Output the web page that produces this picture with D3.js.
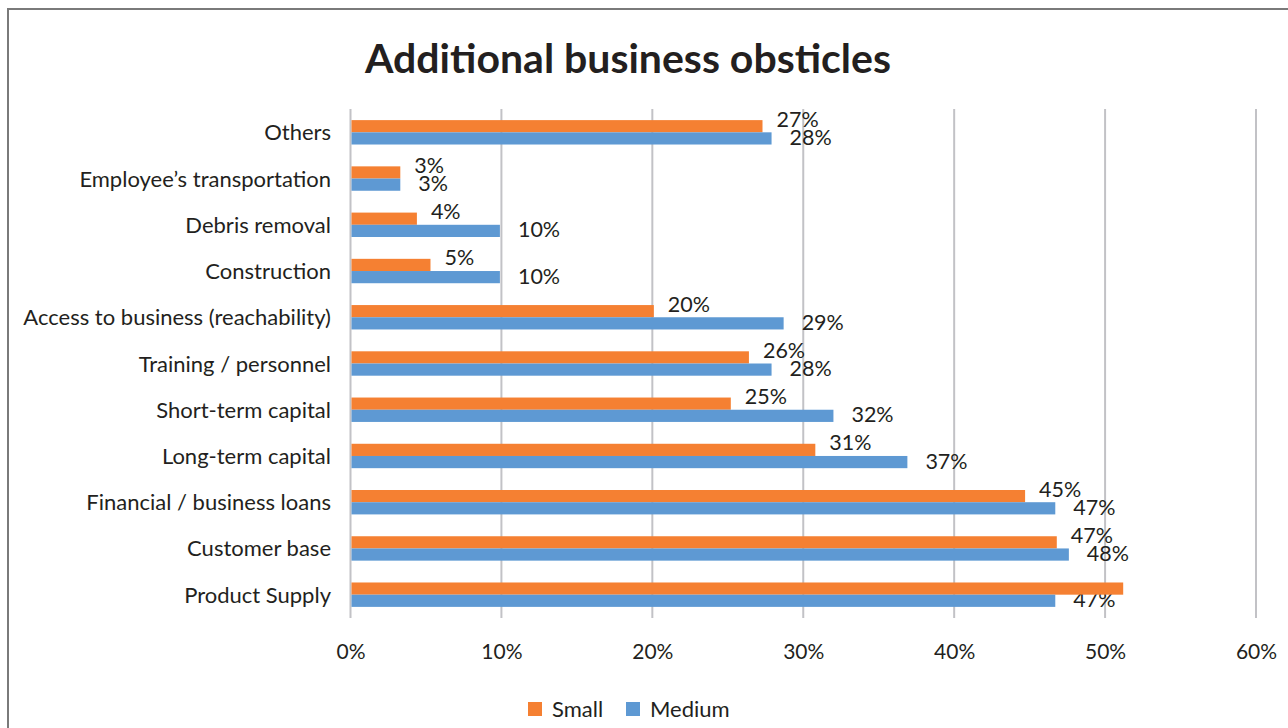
<!DOCTYPE html>
<html>
<head>
<meta charset="utf-8">
<script src="https://cdn.jsdelivr.net/npm/d3@7"></script>
<style>
  html, body { margin: 0; padding: 0; background: #ffffff; }
  svg { display: block; }
  text { font-family: Lato, "Open Sans", sans-serif; fill: #231f20; }
</style>
</head>
<body>
<svg id="chart" width="1288" height="728"></svg>
<script>
// Survey categories, top to bottom
const categories = [
  "Others",
  "Employee\u2019s transportation",
  "Debris removal",
  "Construction",
  "Access to business (reachability)",
  "Training / personnel",
  "Short-term capital",
  "Long-term capital",
  "Financial / business loans",
  "Customer base",
  "Product Supply"
];

// Share of respondents reporting each obstacle
const smallValues  = [0.273, 0.033, 0.044, 0.053, 0.201, 0.264, 0.252, 0.308, 0.447, 0.468, 0.512];
const mediumValues = [0.279, 0.033, 0.099, 0.099, 0.287, 0.279, 0.320, 0.369, 0.467, 0.476, 0.467];

// Small-business label for Product Supply is not printed
const smallLabelShown  = [true, true, true, true, true, true, true, true, true, true, false];
const mediumLabelShown = [true, true, true, true, true, true, true, true, true, true, true];

const seriesNames = ["Small", "Medium"];
const seriesColors = ["#f58032", "#5e99d3"];
const xTicks = [0, 0.1, 0.2, 0.3, 0.4, 0.5, 0.6];

const svg = d3.select("#chart");

// Outer frame
svg.append("rect")
  .attr("x", 8).attr("y", 9)
  .attr("width", 1300).attr("height", 740)
  .attr("fill", "none")
  .attr("stroke", "#7a7a7a")
  .attr("stroke-width", 2);

// Title
svg.append("text")
  .attr("x", 628).attr("y", 73)
  .attr("text-anchor", "middle")
  .style("font-size", "41px")
  .style("font-weight", "bold")
  .text("Additional business obsticles");

const x = d3.scaleLinear().domain([0, 0.6]).range([350.5, 1256]);
const y = d3.scaleBand().domain(categories).range([109.2, 617.8]).padding(0);
const barH = 12.2;

// Vertical gridlines (including the 0% axis line)
svg.append("g")
  .selectAll("line")
  .data(xTicks)
  .join("line")
  .attr("x1", d => x(d)).attr("x2", d => x(d))
  .attr("y1", 109).attr("y2", 618)
  .attr("stroke", "#c2c2c6")
  .attr("stroke-width", 2);

// X axis tick labels
const xAxis = d3.axisBottom(x).tickValues(xTicks).tickFormat(d3.format(".0%")).tickSize(0).tickPadding(0);
const gx = svg.append("g").attr("transform", "translate(0,644)").call(xAxis);
gx.select(".domain").remove();
gx.selectAll("text")
  .attr("dy", "0.7em")
  .style("font-family", "Lato, sans-serif")
  .style("font-size", "21px")
  .attr("fill", "#231f20");

// Category labels
const yAxis = d3.axisLeft(y).tickSize(0).tickPadding(0);
const gy = svg.append("g").attr("transform", "translate(331,1)").call(yAxis);
gy.select(".domain").remove();
gy.selectAll("text")
  .style("font-family", "Lato, sans-serif")
  .style("font-size", "22px")
  .attr("fill", "#231f20");

const fmt = d3.format(".0%");
const rows = categories.map((c, i) => ({
  cat: c,
  small: smallValues[i],
  medium: mediumValues[i],
  showSmall: smallLabelShown[i],
  showMedium: mediumLabelShown[i]
}));

// Value labels (drawn beneath the bars)
const labels = svg.append("g").style("font-size", "21.5px");
labels.selectAll("text.sl")
  .data(rows.filter(r => r.showSmall))
  .join("text")
  .attr("class", "sl")
  .attr("x", d => x(d.small) + 14)
  .attr("y", d => y(d.cat) + y.bandwidth() / 2 - barH / 2 - 7)
  .attr("dy", "0.35em")
  .text(d => fmt(d.small));
labels.selectAll("text.ml")
  .data(rows.filter(r => r.showMedium))
  .join("text")
  .attr("class", "ml")
  .attr("x", d => x(d.medium) + 18)
  .attr("y", d => y(d.cat) + y.bandwidth() / 2 + barH / 2 - 1)
  .attr("dy", "0.35em")
  .text(d => fmt(d.medium));

// Bars
const bars = svg.append("g");
bars.selectAll("rect.small")
  .data(rows)
  .join("rect")
  .attr("class", "small")
  .attr("x", x(0) + 1)
  .attr("y", d => y(d.cat) + y.bandwidth() / 2 - barH)
  .attr("width", d => x(d.small) - x(0) - 1)
  .attr("height", barH)
  .attr("fill", seriesColors[0]);
bars.selectAll("rect.medium")
  .data(rows)
  .join("rect")
  .attr("class", "medium")
  .attr("x", x(0) + 1)
  .attr("y", d => y(d.cat) + y.bandwidth() / 2)
  .attr("width", d => x(d.medium) - x(0) - 1)
  .attr("height", barH)
  .attr("fill", seriesColors[1]);

// Legend
const legendX = [528, 626];
const legend = svg.append("g");
const items = legend.selectAll("g")
  .data(seriesNames)
  .join("g")
  .attr("transform", (d, i) => `translate(${legendX[i]},702)`);
items.append("rect")
  .attr("width", 14).attr("height", 14)
  .attr("fill", (d, i) => seriesColors[i]);
items.append("text")
  .attr("x", 24).attr("y", 7)
  .attr("dy", "0.35em")
  .style("font-size", "22px")
  .text(d => d);
</script>
</body>
</html>
